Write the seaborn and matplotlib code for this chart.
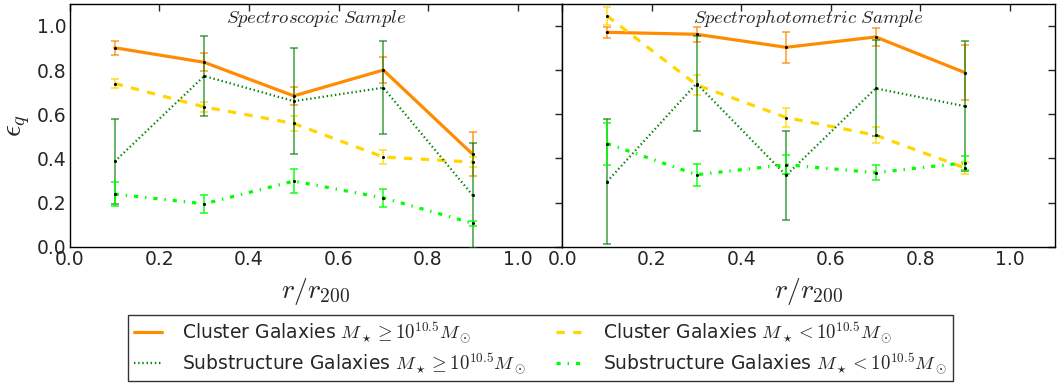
import numpy as np
import pandas as pd
import matplotlib
matplotlib.use("Agg")
import matplotlib.pyplot as plt
import seaborn as sns

sns.set_style("white")
plt.rcParams['font.family'] = ['DejaVu Sans']
plt.rcParams['mathtext.fontset'] = 'cm'
plt.rcParams['lines.scale_dashes'] = False

r = [0.1, 0.3, 0.5, 0.7, 0.9]

# Spectroscopic sample
spec_cl_hi = [0.901, 0.835, 0.683, 0.800, 0.418]
spec_cl_hi_err = [0.031, 0.040, 0.040, 0.057, 0.100]
spec_cl_lo = [0.739, 0.633, 0.558, 0.406, 0.383]
spec_cl_lo_err = [0.020, 0.021, 0.034, 0.033, 0.023]
spec_sub_hi = [0.386, 0.773, 0.659, 0.720, 0.232]
spec_sub_hi_err = [0.194, 0.182, 0.240, 0.210, 0.236]
spec_sub_lo = [0.238, 0.194, 0.297, 0.221, 0.106]
spec_sub_lo_err = [0.053, 0.042, 0.055, 0.041, 0.012]

# Spectrophotometric sample
phot_cl_hi = [0.971, 0.962, 0.903, 0.950, 0.788]
phot_cl_hi_err = [0.025, 0.034, 0.069, 0.042, 0.124]
phot_cl_lo = [1.045, 0.733, 0.585, 0.505, 0.356]
phot_cl_lo_err = [0.040, 0.046, 0.041, 0.035, 0.027]
phot_sub_hi = [0.295, 0.739, 0.323, 0.717, 0.636]
phot_sub_hi_err = [0.284, 0.216, 0.200, 0.217, 0.295]
phot_sub_lo = [0.467, 0.326, 0.371, 0.335, 0.380]
phot_sub_lo_err = [0.095, 0.050, 0.042, 0.034, 0.032]

labels = [r"Cluster Galaxies $M_\star \geq 10^{10.5}M_\odot$",
          r"Cluster Galaxies $M_\star < 10^{10.5}M_\odot$",
          r"Substructure Galaxies $M_\star \geq 10^{10.5}M_\odot$",
          r"Substructure Galaxies $M_\star < 10^{10.5}M_\odot$"]
titles = ["Spectroscopic Sample", "Spectrophotometric Sample"]

colors = ["#FF8C00", "#FFD700", "#008000", "#00FF00"]
styles = ["-", (0, (6, 6)), (0, (1, 2)), (0, (3, 5, 1, 5))]
widths = [2.3, 2.3, 1.6, 2.3]
err_alpha = [0.85, 0.85, 0.75, 0.9]

panels = [
    [(spec_cl_hi, spec_cl_hi_err), (spec_cl_lo, spec_cl_lo_err),
     (spec_sub_hi, spec_sub_hi_err), (spec_sub_lo, spec_sub_lo_err)],
    [(phot_cl_hi, phot_cl_hi_err), (phot_cl_lo, phot_cl_lo_err),
     (phot_sub_hi, phot_sub_hi_err), (phot_sub_lo, phot_sub_lo_err)],
]

fig, axes = plt.subplots(1, 2, figsize=(10.6, 3.83), dpi=100, sharey=True)
fig.subplots_adjust(left=0.066, right=0.995, top=0.99, bottom=0.356, wspace=0)

handles = []
for k, ax in enumerate(axes):
    for i, (vals, errs) in enumerate(panels[k]):
        df = pd.DataFrame({"r": r, "e": vals})
        sns.lineplot(data=df, x="r", y="e", ax=ax, color=colors[i],
                     linestyle=styles[i], linewidth=widths[i], zorder=2)
        if k == 0:
            handles.append(ax.lines[-1])
        ax.errorbar(r, vals, yerr=errs, fmt="none", ecolor=colors[i],
                    elinewidth=1.1, capsize=3, capthick=1.1,
                    alpha=err_alpha[i], zorder=3)
        ax.plot(r, vals, linestyle="none", marker="o", markersize=2.2,
                markeredgewidth=0, color="black", zorder=4)
    ax.set_xlim(0, 1.1)
    ax.set_ylim(0, 1.1)
    ax.set_xticks([0.0, 0.2, 0.4, 0.6, 0.8, 1.0])
    ax.set_yticks([0.0, 0.2, 0.4, 0.6, 0.8, 1.0])
    ax.tick_params(direction="in", top=True, right=True, length=5,
                   width=1, labelsize=13.5, pad=2.5)
    ax.set_xlabel(r"$r/r_{200}$", fontsize=20, labelpad=5)
    ax.set_ylabel("")
    for s in ax.spines.values():
        s.set_color("black")
        s.set_linewidth(1)
    ax.text(0.55, 1.015, r"$\it{" + titles[k].replace(" ", r"\ ") + "}$",
            ha="center", va="baseline", fontsize=13.5)

axes[0].set_ylabel(r"$\epsilon_q$", fontsize=21)
axes[0].yaxis.set_label_coords(-0.078, 0.5)
axes[1].tick_params(labelleft=False)
axes[0].set_yticklabels(["0.0", "0.2", "0.4", "0.6", "0.8", "1.0"])

order = [0, 2, 1, 3]
leg = fig.legend([handles[j] for j in order], [labels[j] for j in order],
                 loc="center", bbox_to_anchor=(0.51, 0.091), ncol=2,
                 fontsize=13.5, frameon=True, fancybox=False,
                 edgecolor="black", handlelength=1.5, handletextpad=1.05,
                 columnspacing=1.6, borderpad=0.3, labelspacing=0.35,
                 borderaxespad=0)
leg.get_frame().set_linewidth(1)

fig.savefig("out.png", dpi=100)
